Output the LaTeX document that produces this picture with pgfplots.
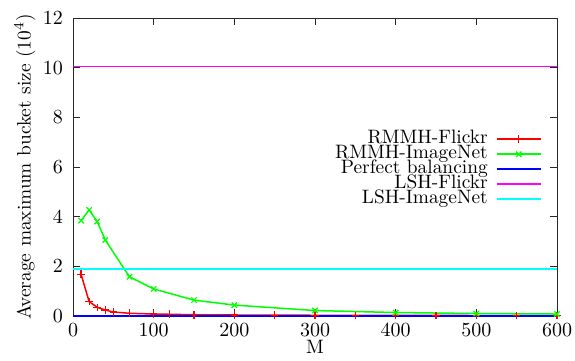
\documentclass[border=0pt]{standalone}
\usepackage{pgfplots}
\pgfplotsset{compat=1.18}
\usetikzlibrary{calc}
\definecolor{cRed}{RGB}{255,0,0}
\definecolor{cGreen}{RGB}{0,255,0}
\definecolor{cBlue}{RGB}{0,0,255}
\definecolor{cMag}{RGB}{255,0,255}
\definecolor{cCyan}{RGB}{0,255,255}
\definecolor{cAxis}{RGB}{40,40,40}
\newcommand{\fs}{\fontsize{9.7}{11}\selectfont}
\begin{document}
\begin{tikzpicture}
\begin{axis}[
  scale only axis, width=242pt, height=149pt,
  xmin=0, xmax=600, ymin=0, ymax=12,
  xtick={0,100,...,600}, ytick={0,2,...,12},
  tick align=inside, major tick length=3.3pt,
  axis line style={line width=0.5pt, draw=cAxis},
  tick style={line width=0.5pt, draw=cAxis},
  ticklabel style={font=\fs},
  yticklabel style={xshift=-1.5pt},
  xticklabel style={yshift=-0.5pt},
  xlabel={M}, ylabel={Average maximum bucket size (10$^4$)},
  xlabel style={font=\fs, at={(axis description cs:0.5,0)}, anchor=base, yshift=-18.5pt, inner sep=0pt},
  ylabel style={font=\fs, at={(axis description cs:0,0.5)}, anchor=center, yshift=24pt, inner sep=0pt},
  legend style={draw=none, fill=none, at={(axis cs:580.5,7.42)}, anchor=north east,
    inner sep=0pt, outer sep=0pt, row sep=0pt, column sep=4.3pt, font=\fs,
    nodes={inner sep=0pt, text height=6pt, text depth=1.5pt}},
  legend cell align=right, legend plot pos=right,
  legend image code/.code={\draw[mark repeat=2,mark phase=2,#1] plot coordinates {(0pt,0pt) (10.85pt,0pt) (21.7pt,0pt)};},
]
\addplot[cRed, line width=0.75pt, mark=+, mark size=1.9pt, mark options={solid, line width=0.6pt}] coordinates {
(10,1.68)(20,0.58)(30,0.35)(40,0.24)(50,0.16)(70,0.11)(100,0.08)(120,0.07)(150,0.05)(200,0.04)(250,0.035)(300,0.03)(350,0.028)(400,0.025)(450,0.023)(500,0.02)(550,0.02)(600,0.018)};
\addlegendentry{RMMH-Flickr}
\addplot[cGreen, line width=0.75pt, mark=x, mark size=1.9pt, mark options={solid, line width=0.6pt}] coordinates {
(10,3.84)(20,4.27)(30,3.8)(40,3.06)(70,1.58)(100,1.09)(150,0.64)(200,0.44)(300,0.22)(400,0.14)(500,0.1)(600,0.08)};
\addlegendentry{RMMH-ImageNet}
\addplot[cBlue, line width=0.75pt, no marks] coordinates {(0,0.005)(600,0.005)};
\addlegendentry{Perfect balancing}
\addplot[cMag, line width=0.75pt, no marks] coordinates {(0,10.05)(600,10.05)};
\addlegendentry{LSH-Flickr}
\addplot[cCyan, line width=0.75pt, no marks] coordinates {(0,1.9)(600,1.9)};
\addlegendentry{LSH-ImageNet}
\end{axis}
\pgfresetboundingbox
\path[use as bounding box] ($(current axis.south west)+(-36.5pt,-22pt)$) rectangle ($(current axis.north east)+(9pt,9pt)$);
\end{tikzpicture}
\end{document}
